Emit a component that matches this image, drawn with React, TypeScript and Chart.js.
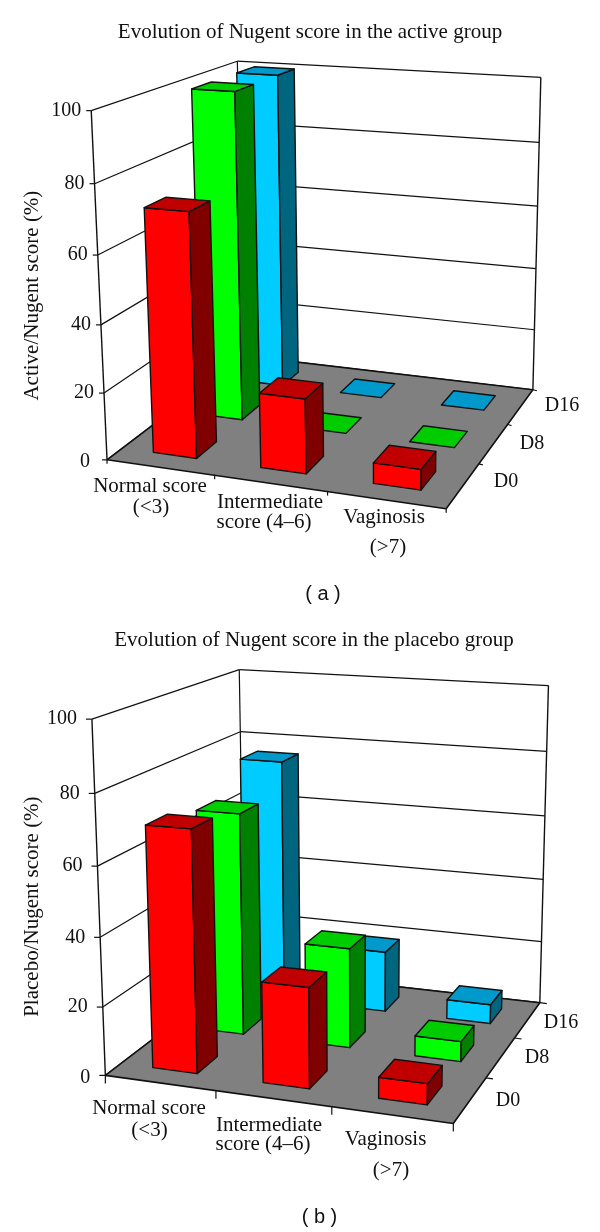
import React, { useEffect, useRef } from "react";
import { Chart, registerables } from "chart.js";

Chart.register(...registerables);

const categories = [["Normal score", "(<3)"], ["Intermediate", "score (4–6)"], ["Vaginosis", "(>7)"]];
const days = ["D0", "D8", "D16"];
const activeD0 = [72, 22, 6];
const activeD8 = [100, 0, 0];
const activeD16 = [100, 0, 0];
const placeboD0 = [70, 29, 6];
const placeboD8 = [67, 30, 6];
const placeboD16 = [76, 19, 6];
const yTicks = { min: 0, max: 100, step: 20 };

const SERIF = "'Liberation Serif', serif";
const SANS = "'Liberation Sans', Arial, sans-serif";
const INK = "#111111";

const faceColors = [
  { front: "#ff0000", side: "#800000", top: "#c00000" },
  { front: "#00ff00", side: "#008000", top: "#00cc00" },
  { front: "#00ccff", side: "#006680", top: "#0099cc" },
];

const T = 1 / 3;
const layouts = [
  {
    pageTop: 0,
    anchors: [
      [0, 0, 0, 107.3, 459], [0, 1, 0, 92, 111], [0, 1, 1, 237.3, 60], [1, 1, 1, 541.7, 79.7],
      [1, 0, 1, 532.3, 390], [1, 0, 0, 446.7, 508.3], [0, 0.8, 0, 94, 183.3], [0, 0.6, 0, 97.7, 256],
      [0, 0.4, 0, 101, 326], [0, 0.2, 0, 104, 394.3], [1, 0.8, 1, 539, 141], [1, 0.6, 1, 537, 204],
      [1, 0.4, 1, 535, 268.7], [1, 0.2, 1, 533.3, 331], [T, 0, 0, 212.3, 474], [2 * T, 0, 0, 326.7, 490.7],
      [1, 0, T, 481.7, 463.3], [1, 0, 2 * T, 508.3, 426], [0, 0, 1, 245, 356],
    ],
    catLabelPos: [[[150, 486.5], [151, 507]], [[270, 502], [264, 522]], [[384, 517], [388, 547]]],
    dayLabelPos: [[506, 482], [532, 444], [562, 406]],
    tickLen: { y: 5, x: 4, z: 4 },
    tickGap: 10,
    zeroGap: 17,
    padTop: 20,
    padBottom: 10,
    padRight: 0,
    xHeight: 60,
    yWidth: 26,
  },
  {
    pageTop: 616,
    anchors: [
      [0, 0, 0, 106, 1072.7], [0, 1, 0, 92, 719], [0, 1, 1, 240, 668.3], [1, 1, 1, 548.3, 684.3],
      [1, 0, 1, 538.7, 1001.7], [1, 0, 0, 450, 1121.7], [0, 0.8, 0, 94, 794.3], [0, 0.6, 0, 97.7, 866.7],
      [0, 0.4, 0, 100.3, 937.3], [0, 0.2, 0, 102.7, 1006], [1, 0.8, 1, 546.7, 752.3], [1, 0.6, 1, 544.3, 816.7],
      [1, 0.4, 1, 542, 880], [1, 0.2, 1, 540.7, 942], [T, 0, 0, 215.7, 1094], [2 * T, 0, 0, 330.7, 1108.3],
      [1, 0, T, 490, 1077.7], [1, 0, 2 * T, 518.3, 1037.3], [0, 0, 1, 243, 970], [0, 0.8, 1, 241, 732.3],
    ],
    catLabelPos: [[[149, 1108], [149.5, 1130]], [[269, 1125], [263, 1144]], [[385.5, 1139], [391, 1170]]],
    dayLabelPos: [[508, 1100.7], [537, 1058], [561, 1022.7]],
    tickLen: { y: 6, x: 8, z: 7 },
    tickGap: 15,
    zeroGap: 15,
    padTop: 12,
    padBottom: 3,
    padRight: -8,
    xHeight: 69,
    yWidth: 19,
  },
];

const BAR_X = 0.136;
const BAR_Z = 0.14;

function solveProjection(anchors: number[][], pageTop: number) {
  const n = 11;
  const A = Array.from({ length: n }, () => new Array(n + 1).fill(0));
  const add = (row: number[], rhs: number) => {
    for (let i = 0; i < n; i++) {
      for (let j = 0; j < n; j++) A[i][j] += row[i] * row[j];
      A[i][n] += row[i] * rhs;
    }
  };
  for (const [X, Y, Z, px, py] of anchors) {
    const u = px / 600;
    const v = (py - pageTop) / 600;
    add([X, Y, Z, 1, 0, 0, 0, 0, -u * X, -u * Y, -u * Z], u);
    add([0, 0, 0, 0, X, Y, Z, 1, -v * X, -v * Y, -v * Z], v);
  }
  for (let c = 0; c < n; c++) {
    let best = c;
    for (let r = c + 1; r < n; r++) if (Math.abs(A[r][c]) > Math.abs(A[best][c])) best = r;
    [A[c], A[best]] = [A[best], A[c]];
    for (let r = 0; r < n; r++) {
      if (r === c) continue;
      const f = A[r][c] / A[c][c];
      for (let k = c; k <= n; k++) A[r][k] -= f * A[c][k];
    }
  }
  const p = A.map((row, i) => row[n] / row[i]);
  return (X: number, Y: number, Z: number): [number, number] => {
    const w = p[8] * X + p[9] * Y + p[10] * Z + 1;
    return [
      (600 * (p[0] * X + p[1] * Y + p[2] * Z + p[3])) / w,
      (600 * (p[4] * X + p[5] * Y + p[6] * Z + p[7])) / w,
    ];
  };
}

const bars3d = {
  id: "bars3d",
  beforeDatasetsDraw(chart: any) {
    const cfg = chart.options.plugins.bars3d;
    const top = cfg.pageTop;
    const project = solveProjection(cfg.anchors, top);
    const { x, y, z } = chart.scales;
    const ctx = chart.ctx;
    const fx = (i: number) => x.getDecimalForPixel(x.getPixelForValue(i));
    const fz = (i: number) => z.getDecimalForPixel(z.getPixelForValue(i));
    const fy = (v: number) => y.getDecimalForPixel(y.getPixelForValue(v));

    const line = (a: [number, number], b: [number, number], w = 1.2) => {
      ctx.beginPath();
      ctx.moveTo(a[0], a[1]);
      ctx.lineTo(b[0], b[1]);
      ctx.lineWidth = w;
      ctx.strokeStyle = INK;
      ctx.stroke();
    };
    const poly = (pts: [number, number][], fill: string, w = 1.4) => {
      ctx.beginPath();
      pts.forEach((p, i) => (i ? ctx.lineTo(p[0], p[1]) : ctx.moveTo(p[0], p[1])));
      ctx.closePath();
      ctx.fillStyle = fill;
      ctx.fill();
      ctx.lineWidth = w;
      ctx.strokeStyle = INK;
      ctx.lineJoin = "round";
      ctx.stroke();
    };

    ctx.save();
    // walls
    for (const t of y.ticks) {
      const v = fy(t.value);
      line(project(0, v, 0), project(0, v, 1));
      line(project(0, v, 1), project(1, v, 1));
    }
    line(project(0, 0, 0), project(0, 1, 0), 1.4);
    line(project(0, 0, 1), project(0, 1, 1));
    line(project(1, 0, 1), project(1, 1, 1), 1.4);
    // floor
    poly([project(0, 0, 0), project(1, 0, 0), project(1, 0, 1), project(0, 0, 1)], "#808080", 1.6);
    // ticks on the axes
    for (const t of y.ticks) {
      const p = project(0, fy(t.value), 0);
      line([p[0] - cfg.tickLen.y, p[1]], p);
    }
    for (const i of [0, 1, 2, 3]) {
      const p = project(i / 3, 0, 0);
      line(p, [p[0], p[1] + cfg.tickLen.x]);
    }
    for (const i of [1, 2, 3]) {
      const p = project(1, 0, i / 3);
      line(p, [p[0] + cfg.tickLen.z, p[1] + 1]);
    }
    // bars, back row first, left to right
    for (let d = chart.data.datasets.length - 1; d >= 0; d--) {
      const ds = chart.data.datasets[d];
      ds.data.forEach((value: number, c: number) => {
        const x0 = fx(c) - BAR_X / 2;
        const x1 = fx(c) + BAR_X / 2;
        const z0 = fz(d) - BAR_Z / 2;
        const z1 = fz(d) + BAR_Z / 2;
        const h = fy(value);
        if (value > 0) {
          poly([project(x0, 0, z0), project(x1, 0, z0), project(x1, h, z0), project(x0, h, z0)], ds.backgroundColor);
          poly([project(x1, 0, z0), project(x1, 0, z1), project(x1, h, z1), project(x1, h, z0)], ds.sideColor);
        }
        poly([project(x0, h, z0), project(x1, h, z0), project(x1, h, z1), project(x0, h, z1)], ds.topColor);
      });
    }
    // text read through the scales
    ctx.fillStyle = INK;
    ctx.textBaseline = "middle";
    ctx.font = `20px ${SERIF}`;
    ctx.textAlign = "right";
    for (const t of y.ticks) {
      const p = project(0, fy(t.value), 0);
      ctx.fillText(String(t.value), p[0] - (t.value === 0 ? cfg.zeroGap : cfg.tickGap), p[1] + (t.value === 0 ? 2 : 0));
    }
    ctx.textAlign = "center";
    ctx.font = `21px ${SERIF}`;
    chart.data.labels.forEach((lines: string[], c: number) => {
      lines.forEach((txt, l) => {
        const pos = cfg.catLabelPos[c][l];
        ctx.fillText(txt, pos[0], pos[1] - top);
      });
    });
    ctx.font = `20px ${SERIF}`;
    z.getLabels().forEach((txt: string, d: number) => {
      const pos = cfg.dayLabelPos[d];
      ctx.fillText(txt, pos[0], pos[1] - top);
    });
    ctx.restore();
    return false;
  },
};

function Panel({ title, yTitle, panel, series, layout }: any) {
  const ref = useRef<HTMLCanvasElement>(null);
  useEffect(() => {
    const chart = new Chart(ref.current as HTMLCanvasElement, {
      type: "bar",
      data: {
        labels: categories,
        datasets: series.map((values: number[], i: number) => ({
          label: days[i],
          data: values,
          backgroundColor: faceColors[i].front,
          sideColor: faceColors[i].side,
          topColor: faceColors[i].top,
        })),
      },
      options: {
        responsive: false,
        animation: false,
        events: [],
        layout: { padding: { left: 20, right: layout.padRight, top: layout.padTop, bottom: layout.padBottom } },
        plugins: {
          legend: { display: false },
          tooltip: { enabled: false },
          title: {
            display: true,
            text: title,
            color: INK,
            padding: 0,
            font: { family: SERIF, size: 21, weight: "normal" },
          },
          bars3d: layout,
        },
        scales: {
          x: {
            type: "category",
            offset: true,
            grid: { display: false },
            border: { display: false },
            ticks: { display: false },
            title: { display: true, text: panel, color: INK, padding: 0, font: { family: SANS, size: 20 } },
            afterFit: (s: any) => { s.height = layout.xHeight; },
          },
          y: {
            type: "linear",
            min: yTicks.min,
            max: yTicks.max,
            grid: { display: false },
            border: { display: false },
            ticks: { display: false, stepSize: yTicks.step },
            title: { display: true, text: yTitle, color: INK, padding: 0, font: { family: SERIF, size: 21 } },
            afterFit: (s: any) => { s.width = layout.yWidth; },
          },
          z: {
            type: "category",
            axis: "x",
            labels: days,
            offset: true,
            display: false,
          },
        },
      },
      plugins: [bars3d],
    } as any);
    return () => chart.destroy();
  }, []);
  return (
    <canvas
      ref={ref}
      width={600}
      height={616}
      style={{ position: "absolute", left: 0, top: layout.pageTop, width: 600, height: 616 }}
    />
  );
}

export default function App() {
  return (
    <div style={{ position: "absolute", left: 0, top: 0, width: 600, height: 1232, background: "#fff" }}>
      <Panel
        title="Evolution of Nugent score in the active group"
        yTitle="Active/Nugent score (%)"
        panel="( a )"
        series={[activeD0, activeD8, activeD16]}
        layout={layouts[0]}
      />
      <Panel
        title="Evolution of Nugent score in the placebo group"
        yTitle="Placebo/Nugent score (%)"
        panel="( b )"
        series={[placeboD0, placeboD8, placeboD16]}
        layout={layouts[1]}
      />
    </div>
  );
}
